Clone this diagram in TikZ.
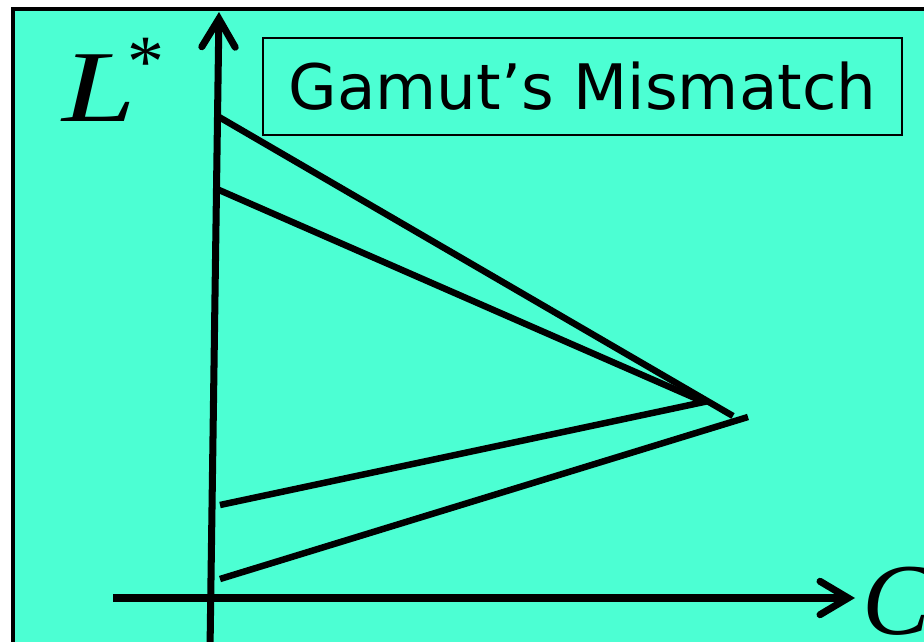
\documentclass[tikz,border=0pt]{standalone}
\usepackage{fontspec}
\setmainfont{Liberation Serif}
\newfontfamily\titlefont{DejaVu Sans}
\usetikzlibrary{arrows.meta}
\definecolor{gamutCyan}{HTML}{4CFFD3}
\tikzset{
  >={Straight Barb[length=16pt,width=19pt,line cap=round]},
  axis/.style={->,line width=4pt},
  gamutline/.style={line width=3.7pt},
  axislabel/.style={font=\fontsize{58}{60}\selectfont\itshape,inner sep=0pt},
  titlebox/.style={draw,line width=0.8pt,minimum width=12.78cm,minimum height=1.94cm,
    inner sep=0pt,font=\titlefont\fontsize{35.7}{40}\selectfont},
}

\begin{document}
\begin{tikzpicture}[x=0.02cm,y=-0.02cm]
  \useasboundingbox (0,0) rectangle (924,642);
  \clip (0,0) rectangle (924,642);
  \draw[line width=2.6pt, fill=gamutCyan] (13,9) rectangle (940,645);

  % axes
  \coordinate (lBottom) at (210,650);
  \coordinate (lTop)    at (219,12);
  \coordinate (cLeft)   at (113,598);
  \coordinate (cRight)  at (855,598);
  \draw[axis] (lBottom) -- (lTop);
  \draw[axis] (cLeft) -- (cRight);

  \node[axislabel, anchor=base west] (lLabel) at (62,122)
    {\scalebox{1.3}[1]{L}\kern-5pt\raisebox{20pt}{\fontsize{42}{42}\selectfont\upshape *}};
  \node[axislabel, anchor=base west] (cLabel) at (862,634) {C};

  % gamut boundaries
  \coordinate (aTop)  at (219,117);
  \coordinate (aTip1) at (733,416);
  \coordinate (aTip2) at (748,417);
  \coordinate (aBot)  at (220,579);
  \coordinate (bTop)  at (219,190);
  \coordinate (bTip)  at (704,402);
  \coordinate (bBot)  at (220,505);
  \draw[gamutline] (aTop) -- (aTip1);
  \draw[gamutline] (aBot) -- (aTip2);
  \draw[gamutline] (bTop) -- (bTip) -- (bBot);

  \node[titlebox] (title) at (582.5,86.5) {Gamut’s Mismatch};
\end{tikzpicture}
\end{document}
